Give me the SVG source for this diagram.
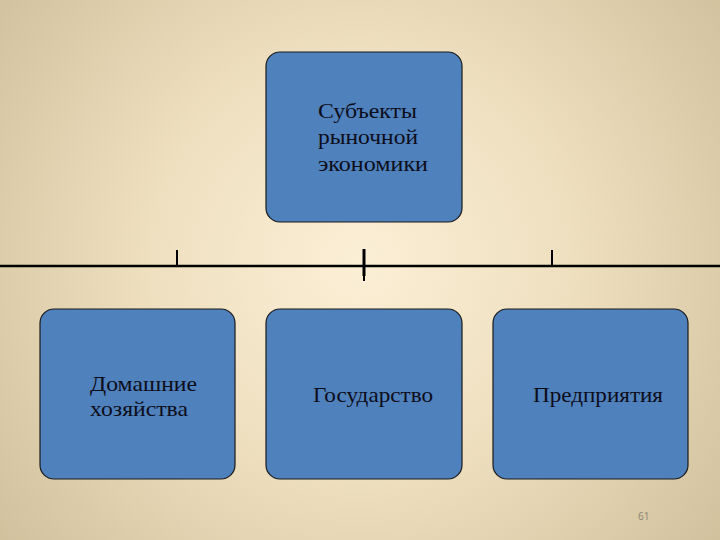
<svg xmlns="http://www.w3.org/2000/svg" width="720" height="540" viewBox="0 0 720 540">
<defs>
<radialGradient id="bg" cx="360" cy="262" r="470" gradientUnits="userSpaceOnUse">
<stop offset="0" stop-color="#fbefd6"/>
<stop offset="0.45" stop-color="#eedfbf"/>
<stop offset="1" stop-color="#cfbf9b"/>
</radialGradient>
<style>
.box{fill:#4f81bd;stroke:#1a1a1a;stroke-width:1.2}
.t{font-family:"Liberation Serif","DejaVu Serif",serif;font-size:21px;fill:#0d0d1a}
.ln{stroke:#000;fill:none}
</style>
</defs>
<rect width="720" height="540" fill="url(#bg)"/>
<g id="connectors">
<line class="ln" x1="0" y1="266" x2="720" y2="266" stroke-width="2.5"/>
<line class="ln" x1="177" y1="250" x2="177" y2="266" stroke-width="2"/>
<line class="ln" x1="364" y1="249" x2="364" y2="276" stroke-width="3"/>
<line class="ln" x1="364" y1="274" x2="364" y2="281" stroke-width="2"/>
<line class="ln" x1="552" y1="250" x2="552" y2="266" stroke-width="2"/>
</g>
<g id="root">
<rect class="box" x="266" y="52" width="196" height="170" rx="14"/>
<text class="t" x="318" y="118" textLength="99" lengthAdjust="spacingAndGlyphs">Субъекты</text>
<text class="t" x="318" y="144" textLength="100" lengthAdjust="spacingAndGlyphs">рыночной</text>
<text class="t" x="318" y="171" textLength="110" lengthAdjust="spacingAndGlyphs">экономики</text>
</g>
<g id="households">
<rect class="box" x="40" y="309" width="195" height="170" rx="14"/>
<text class="t" x="90" y="391" textLength="107" lengthAdjust="spacingAndGlyphs">Домашние</text>
<text class="t" x="90" y="416" textLength="98" lengthAdjust="spacingAndGlyphs">хозяйства</text>
</g>
<g id="state">
<rect class="box" x="266" y="309" width="196" height="170" rx="14"/>
<text class="t" x="313" y="402" textLength="120" lengthAdjust="spacingAndGlyphs">Государство</text>
</g>
<g id="enterprises">
<rect class="box" x="493" y="309" width="195" height="170" rx="14"/>
<text class="t" x="533" y="402" textLength="130" lengthAdjust="spacingAndGlyphs">Предприятия</text>
</g>
<text x="638" y="520" font-family="'Open Sans','DejaVu Sans',sans-serif" font-size="10" fill="#8c8474">61</text>
</svg>
